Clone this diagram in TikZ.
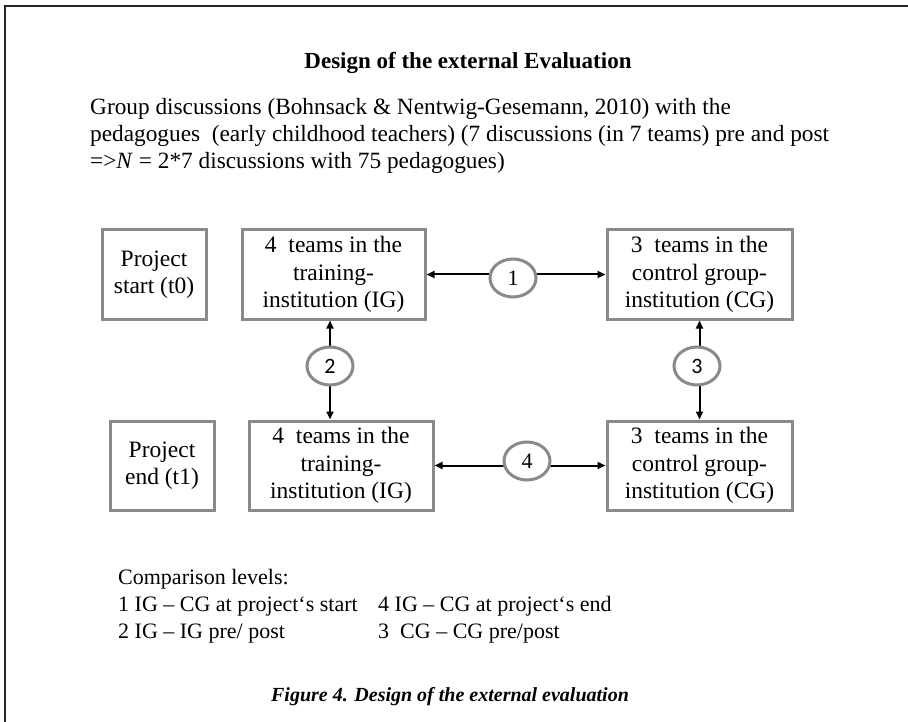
\documentclass[tikz,border=0pt]{standalone}
\usepackage{fontspec}
\setmainfont{Liberation Serif}
\newfontfamily\numfont{Carlito}
\usetikzlibrary{arrows.meta,shapes.geometric}
\definecolor{boxgray}{HTML}{8A8A8A}
\definecolor{framegray}{HTML}{262626}
\tikzset{
  x=1pt,y=-1pt,
  txt/.style={inner sep=0pt,font=\fontsize{23.3}{27}\selectfont},
  lgd/.style={inner sep=0pt,font=\fontsize{22}{27}\selectfont},
  bx/.style={draw=boxgray,line width=3pt,align=center,inner sep=0pt,
    font=\fontsize{23.5}{27.5}\selectfont},
  cmp/.style={draw=boxgray,line width=3pt,fill=white,ellipse,inner sep=0pt,
    minimum width=46pt,minimum height=38pt,font=\fontsize{22}{24}\selectfont},
  conn/.style={line width=2pt,{Triangle[length=8pt,width=7pt]}-{Triangle[length=8pt,width=7pt]}}
}
\begin{document}
\begin{tikzpicture}
\useasboundingbox (0,0) rectangle (908,722);
\fill[white] (0,0) rectangle (908,722);
% frame
\coordinate (fb) at (5,722);
\coordinate (fc) at (5,6);
\coordinate (fr) at (908,6);
\draw[framegray,line width=2.5pt] (fb) -- (fc) -- (fr);
% heading
\node[txt,anchor=base,font=\fontsize{23}{26}\selectfont\bfseries] (head) at (468,69) {Design of the external Evaluation};
\node[txt,anchor=base west] (p1) at (90,115) {Group discussions (Bohnsack \& Nentwig-Gesemann, 2010) with the};
\node[txt,anchor=base west] (p2) at (90,142) {pedagogues\ \ (early childhood teachers) (7 discussions (in 7 teams) pre and post};
\node[txt,anchor=base west] (p3) at (90,169) {=>\textit{N} = 2*7 discussions with 75 pedagogues)};
% boxes
\node[bx,minimum width=104pt,minimum height=89pt] (ps) at (154,274.5) {Project\\start (t0)};
\node[bx,minimum width=183pt,minimum height=89pt] (ig1) at (333.5,274.5) {4\ \ teams in the\\training-\\institution (IG)};
\node[bx,minimum width=185pt,minimum height=89pt] (cg1) at (699.5,274.5) {3\ \ teams in the\\control group-\\institution (CG)};
\node[bx,minimum width=104pt,minimum height=89pt] (pe) at (162,465.5) {Project\\end (t1)};
\node[bx,minimum width=184pt,minimum height=89pt] (ig2) at (341,465.5) {4\ \ teams in the\\training-\\institution (IG)};
\node[bx,minimum width=185pt,minimum height=89pt] (cg2) at (699.5,465.5) {3\ \ teams in the\\control group-\\institution (CG)};
% connectors
\coordinate (x2) at (330,366);
\draw[conn] (ig1.east) -- (cg1.west);
\draw[conn] (ig1.south -| x2) -- (ig2.north -| x2);
\draw[conn] (cg1.south) -- (cg2.north);
\draw[conn] (ig2.east) -- (cg2.west);
% comparison circles
\node[cmp] (c1) at (513,278) {1};
\node[cmp,font=\fontsize{22}{24}\numfont] (c2) at (330,366) {2};
\node[cmp,font=\fontsize{22}{24}\numfont] (c3) at (697,366) {3};
\node[cmp] (c4) at (527,461) {4};
% legend
\node[lgd,anchor=base west] (l0) at (118,584) {Comparison levels:};
\node[lgd,anchor=base west] (l1) at (118,611) {1 IG -- CG at project‘s start};
\node[lgd,anchor=base west] (l2) at (118,638) {2 IG -- IG pre/ post};
\node[lgd,anchor=base west] (l3) at (378,611) {4 IG -- CG at project‘s end};
\node[lgd,anchor=base west] (l4) at (378,638) {3\ \ CG -- CG pre/post};
% caption
\node[txt,anchor=base,font=\fontsize{20}{24}\selectfont\bfseries\itshape] (cap) at (450,701) {Figure 4. Design of the external evaluation};
\end{tikzpicture}
\end{document}
